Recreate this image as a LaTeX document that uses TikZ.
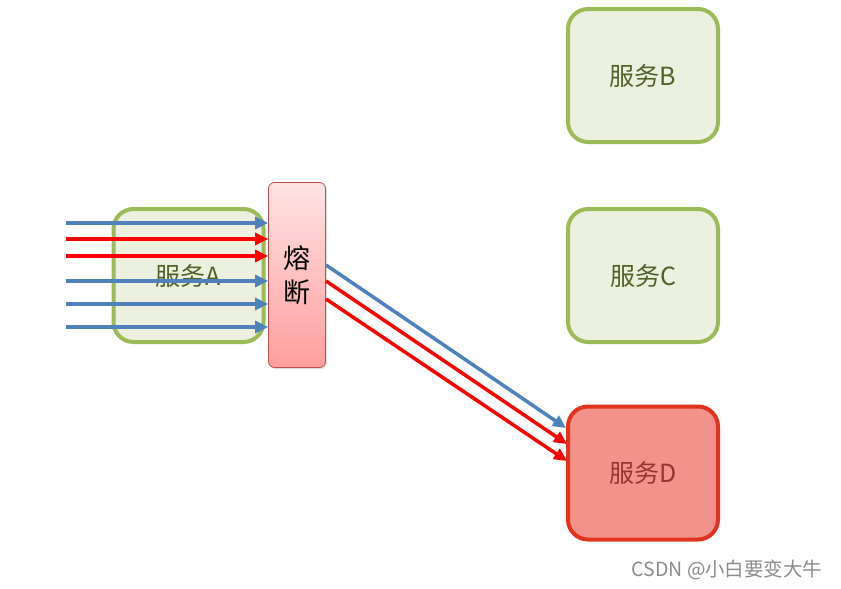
\documentclass[tikz,border=0pt]{standalone}
\usepackage{fontspec}
\setmainfont{Noto Sans CJK SC}
\usetikzlibrary{arrows.meta,shadows}
\definecolor{gborder}{HTML}{9BBB59}
\definecolor{gfill}{HTML}{EBF1DE}
\definecolor{gtext}{HTML}{4F6228}
\definecolor{rborder}{HTML}{E0341E}
\definecolor{rfill}{HTML}{F2928A}
\definecolor{rtext}{HTML}{943634}
\definecolor{arblue}{HTML}{4F81BD}
\definecolor{arred}{HTML}{FF0000}
\definecolor{fusetop}{HTML}{FFE3E3}
\definecolor{fusebot}{HTML}{FF9E9E}
\definecolor{fuseborder}{HTML}{C0504D}
\tikzset{
  svc/.style={draw=gborder, fill=gfill, line width=4pt, rounded corners=20pt,
    minimum width=150pt, minimum height=133pt, inner sep=0pt,
    text=gtext, font=\fontsize{25}{28}\selectfont},
  svcbad/.style={svc, draw=rborder, fill=rfill, text=rtext},
  fusebox/.style={draw=fuseborder, line width=0.8pt, rounded corners=6pt,
    top color=fusetop, bottom color=fusebot, minimum width=57pt,
    minimum height=185pt, inner sep=0pt, align=center,
    font=\fontsize{27}{34}\selectfont,
    drop shadow={opacity=0.25, shadow xshift=1.5pt, shadow yshift=-1.5pt}},
  arb/.style={draw=arblue, line width=3.5pt, -{Triangle[length=13pt,width=12pt]}},
  arr/.style={draw=arred, line width=3.5pt, -{Triangle[length=13pt,width=12pt]}},
}
\begin{document}
\begin{tikzpicture}[x=1pt,y=-1pt]
\useasboundingbox (0,0) rectangle (841,589);
\node[svc] (A) at (188.5,275.5) {服务A};
\node[svc] (B) at (643,75.5) {服务B};
\node[svc] (C) at (643,275.5) {服务C};
\node[svcbad] (D) at (643,473) {服务D};
\node[fusebox] (F) at (297,275) {熔\\断};
% incoming arrows
\foreach \y/\s [count=\i] in {223/arb,239/arr,256/arr,281/arb,304/arb,327/arb}{
  \coordinate (in\i) at (66,\y);
  \draw[\s] (in\i) -- (in\i -| F.west);
}
% outgoing arrows
\coordinate (o1) at (326,265);
\coordinate (o2) at (326,281);
\coordinate (o3) at (326,299);
\coordinate (t1) at (566,428);
\coordinate (t2) at (567,444);
\coordinate (t3) at (567,461);
\draw[arb] (o1) -- (t1);
\draw[arr] (o2) -- (t2);
\draw[arr] (o3) -- (t3);
\node[text=black!45, font=\fontsize{19.5}{22}\selectfont, anchor=east] (wm) at (826,570) {CSDN @小白要变大牛};
\end{tikzpicture}
\end{document}
